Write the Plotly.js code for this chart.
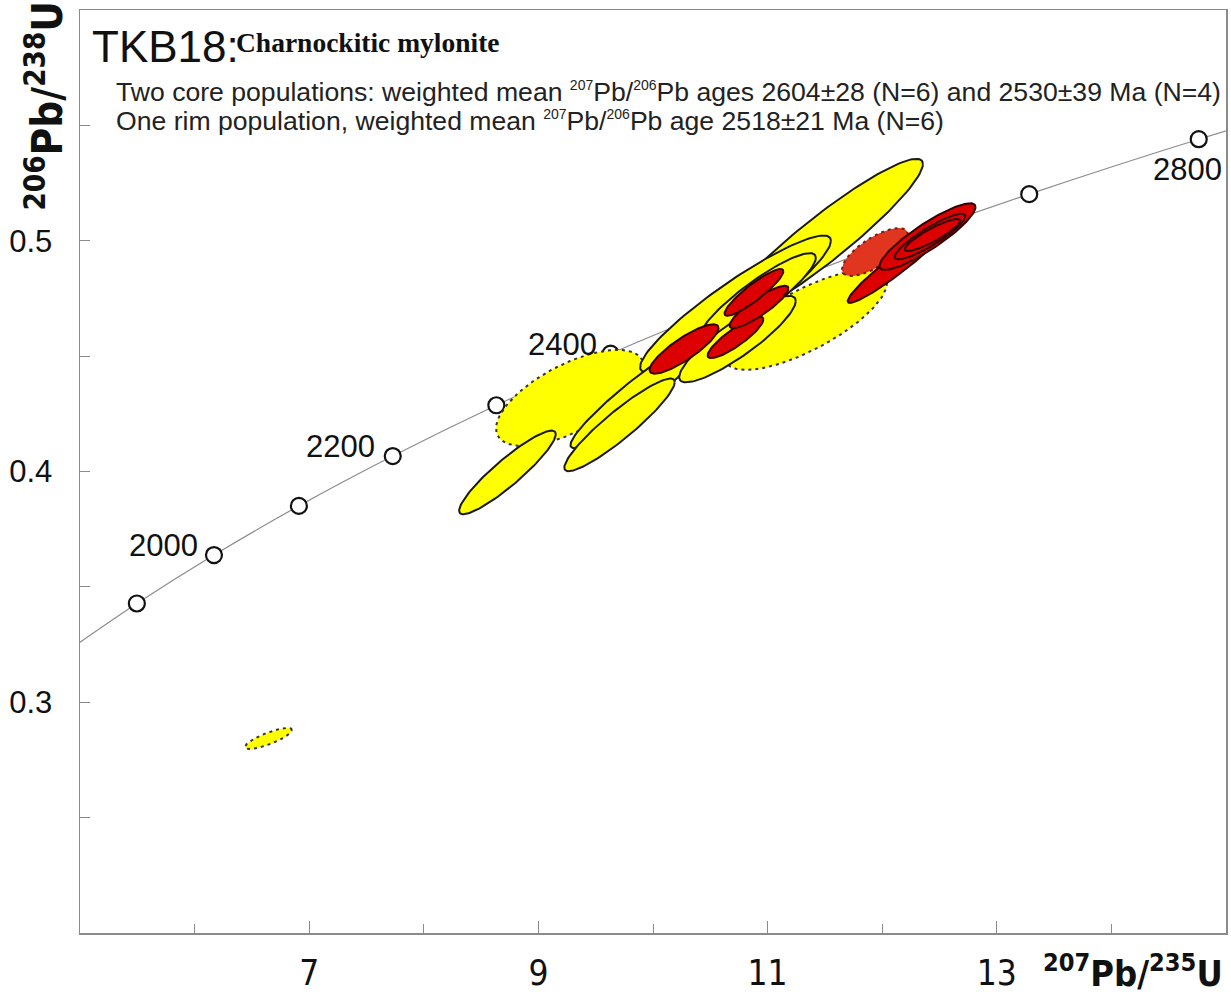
<!DOCTYPE html>
<html><head><meta charset="utf-8">
<script src="https://cdn.plot.ly/plotly-3.0.1.min.js"></script>
<style>body{margin:0;background:#fff}#chart{width:1231px;height:998px}</style>
</head><body><div id="chart"></div>
<script>
// Concordia reference points (age in Ma, 207Pb/235U, 206Pb/238U)
const concordiaAges = [1800, 1900, 2000, 2100, 2200, 2300, 2400, 2500, 2600, 2700, 2800, 2900];
const concordiaX = [4.887, 5.496, 6.169, 6.910, 7.729, 8.633, 9.630, 10.730, 11.944, 13.283, 14.762, 16.393];
const concordiaY = [0.3221, 0.3428, 0.3638, 0.3851, 0.4067, 0.4287, 0.4511, 0.4737, 0.4968, 0.5202, 0.5440, 0.5681];
const markedAges = [1900, 2000, 2100, 2200, 2300, 2400, 2500, 2600, 2700, 2800];
const labelledAges = [2000, 2200, 2400, 2800];

// Analyses (draw order), error ellipses: centre, half-extent in x and y, correlation
const spotType = ['coreDashed','coreDashed','coreDashed','core','core','core','core','core','core','core',
                  'rimDashed','rim','rim','rim','rim','rim','rim','rim','rim'];
const spotX   = [9.276, 11.335, 6.645, 11.480, 10.720, 9.869, 10.912, 10.737, 9.708, 8.730,
                 11.937, 10.271, 10.720, 10.925, 10.881, 12.138, 12.395, 12.417, 12.439];
const spotY   = [0.4319, 0.4657, 0.2843, 0.5005, 0.4726, 0.4338, 0.4754, 0.4574, 0.4202, 0.3996,
                 0.4951, 0.4531, 0.4581, 0.4713, 0.4776, 0.4901, 0.5018, 0.5018, 0.5025];
const spotSX  = [0.6457, 0.7068, 0.2051, 0.875, 0.8325, 0.589, 0.5087, 0.5087, 0.4817, 0.4215,
                 0.288, 0.301, 0.2435, 0.2565, 0.2565, 0.4389, 0.4193, 0.308, 0.2417];
const spotSY  = [0.0208, 0.02167, 0.00455, 0.0350, 0.02964, 0.02366, 0.01924, 0.01876, 0.02006, 0.01811,
                 0.0104, 0.0107, 0.00897, 0.00919, 0.01014, 0.01699, 0.01443, 0.00988, 0.00693];
const spotRho = [0.64, 0.74, 0.81, 0.935, 0.9215, 0.9456, 0.8966, 0.879, 0.9226, 0.914,
                 0.72, 0.85, 0.869, 0.875, 0.903, 0.956, 0.887, 0.891, 0.889];

const xTickVals = [7, 9, 11, 13];
const xMinorVals = [6, 8, 10, 12, 14];
const yTickVals = [0.3, 0.4, 0.5];
const yTickText = ['0.3', '0.4', '0.5'];
const yMinorVals = [0.25, 0.35, 0.45, 0.55];

const titleMain = 'TKB18:';
const titleSub = 'Charnockitic mylonite';
const sup = s => '<sup><span style="font-size:14px">' + s + '</span></sup>';
const note1 = 'Two core populations: weighted mean ' + sup('207') + 'Pb/' + sup('206') + 'Pb ages 2604±28 (N=6) and 2530±39 Ma (N=4)';
const note2 = 'One rim population, weighted mean ' + sup('207') + 'Pb/' + sup('206') + 'Pb age 2518±21 Ma (N=6)';

const styles = {
  core:       {fill: '#ffff00', line: '#1a1a1a', dash: 'solid', width: 2},
  coreDashed: {fill: '#ffff00', line: '#333333', dash: '3px,4px', width: 2},
  rim:        {fill: '#dd0000', line: '#330000', dash: 'solid', width: 2},
  rimDashed:  {fill: '#e0351f', line: '#7a1a10', dash: '3px,4px', width: 2}
};

function ellipse(cx, cy, sx, sy, rho) {
  const xs = [], ys = [];
  const k = Math.sqrt(1 - rho * rho);
  for (let i = 0; i <= 120; i++) {
    const t = 2 * Math.PI * i / 120;
    xs.push(cx + sx * Math.cos(t));
    ys.push(cy + sy * (rho * Math.cos(t) + k * Math.sin(t)));
  }
  return {xs, ys};
}

const traces = [];
traces.push({
  x: concordiaX, y: concordiaY, mode: 'lines', type: 'scatter',
  line: {color: '#8c8c8c', width: 1.2, shape: 'spline'}, hoverinfo: 'skip', showlegend: false
});
const mX = [], mY = [];
markedAges.forEach(a => { const i = concordiaAges.indexOf(a); mX.push(concordiaX[i]); mY.push(concordiaY[i]); });
traces.push({
  x: mX, y: mY, mode: 'markers', type: 'scatter',
  marker: {size: 16, color: '#ffffff', line: {color: '#111111', width: 2.2}},
  hoverinfo: 'skip', showlegend: false
});
for (let i = 0; i < spotX.length; i++) {
  const e = ellipse(spotX[i], spotY[i], spotSX[i], spotSY[i], spotRho[i]);
  const s = styles[spotType[i]];
  traces.push({
    x: e.xs, y: e.ys, mode: 'lines', type: 'scatter', fill: 'toself', fillcolor: s.fill,
    line: {color: s.line, width: s.width, dash: s.dash}, hoverinfo: 'skip', showlegend: false
  });
}

const narrow = '"Liberation Sans Narrow", "Arial Narrow", "DejaVu Sans Condensed", Arial, sans-serif';
const annotations = [];
const labelShift = {2000: [-50, 10], 2200: [-52, 10], 2400: [-48, 9], 2800: [-11, -30]};
labelledAges.forEach(a => {
  const i = concordiaAges.indexOf(a);
  annotations.push({x: concordiaX[i], y: concordiaY[i], xref: 'x', yref: 'y', text: String(a), showarrow: false,
    xshift: labelShift[a][0], yshift: labelShift[a][1], font: {family: 'Arial, Liberation Sans, sans-serif', size: 31, color: '#111'}});
});
annotations.push({xref: 'paper', yref: 'paper', x: 0.0087, y: 0.9607, xanchor: 'left', yanchor: 'middle', showarrow: false,
  text: titleMain, font: {family: 'Arial, Liberation Sans, sans-serif', size: 44, color: '#111'}});
annotations.push({xref: 'paper', yref: 'paper', x: 0.1345, y: 0.9650, xanchor: 'left', yanchor: 'middle', showarrow: false,
  text: '<b>' + titleSub + '</b>', font: {family: '"Liberation Serif", "Times New Roman", serif', size: 27.5, color: '#111'}});
annotations.push({xref: 'paper', yref: 'paper', x: 0.0300, y: 0.9115, xanchor: 'left', yanchor: 'middle', showarrow: false,
  text: note1, font: {family: 'Arial, Liberation Sans, sans-serif', size: 26.6, color: '#222'}});
annotations.push({xref: 'paper', yref: 'paper', x: 0.0300, y: 0.8800, xanchor: 'left', yanchor: 'middle', showarrow: false,
  text: note2, font: {family: 'Arial, Liberation Sans, sans-serif', size: 26.6, color: '#222'}});
annotations.push({xref: 'paper', yref: 'paper', x: 0.9990, y: -0.0410, xanchor: 'right', yanchor: 'middle', showarrow: false,
  text: '<b><sup>207</sup>Pb/<sup>235</sup>U</b>', font: {family: narrow, size: 36, color: '#111'}});
annotations.push({xref: 'paper', yref: 'paper', x: -0.0300, y: 0.8960, xanchor: 'center', yanchor: 'middle', showarrow: false,
  textangle: -90, text: '<b><sup>206</sup>Pb/<sup>238</sup>U</b>', font: {family: narrow, size: 42, color: '#111'}});

const layout = {
  width: 1231, height: 998,
  margin: {l: 80, r: 5, t: 10, b: 65, pad: 0},
  paper_bgcolor: '#ffffff', plot_bgcolor: '#ffffff',
  showlegend: false,
  xaxis: {range: [5, 15], showgrid: false, zeroline: false, showline: true, linecolor: '#8a8a8a', linewidth: 1.5, mirror: true,
    tickmode: 'array', tickvals: xTickVals, ticktext: xTickVals.map(String), ticks: 'inside', ticklen: 12, tickcolor: '#8a8a8a', tickwidth: 1,
    ticklabelstandoff: 8, tickfont: {family: narrow, size: 35, color: '#111'},
    minor: {tickmode: 'array', tickvals: xMinorVals, ticks: 'inside', ticklen: 9, tickcolor: '#8a8a8a', tickwidth: 1, showgrid: false}},
  yaxis: {range: [0.2, 0.6], showgrid: false, zeroline: false, showline: true, linecolor: '#8a8a8a', linewidth: 1.5, mirror: true,
    tickmode: 'array', tickvals: yTickVals, ticktext: yTickText, ticks: 'inside', ticklen: 10, tickcolor: '#8a8a8a', tickwidth: 1,
    ticklabelstandoff: 20, tickfont: {family: 'Arial, Liberation Sans, sans-serif', size: 31, color: '#111'},
    minor: {tickmode: 'array', tickvals: yMinorVals, ticks: 'inside', ticklen: 10, tickcolor: '#8a8a8a', tickwidth: 1, showgrid: false}},
  annotations: annotations
};
Plotly.newPlot('chart', traces, layout, {displayModeBar: false, staticPlot: true});
</script></body></html>
